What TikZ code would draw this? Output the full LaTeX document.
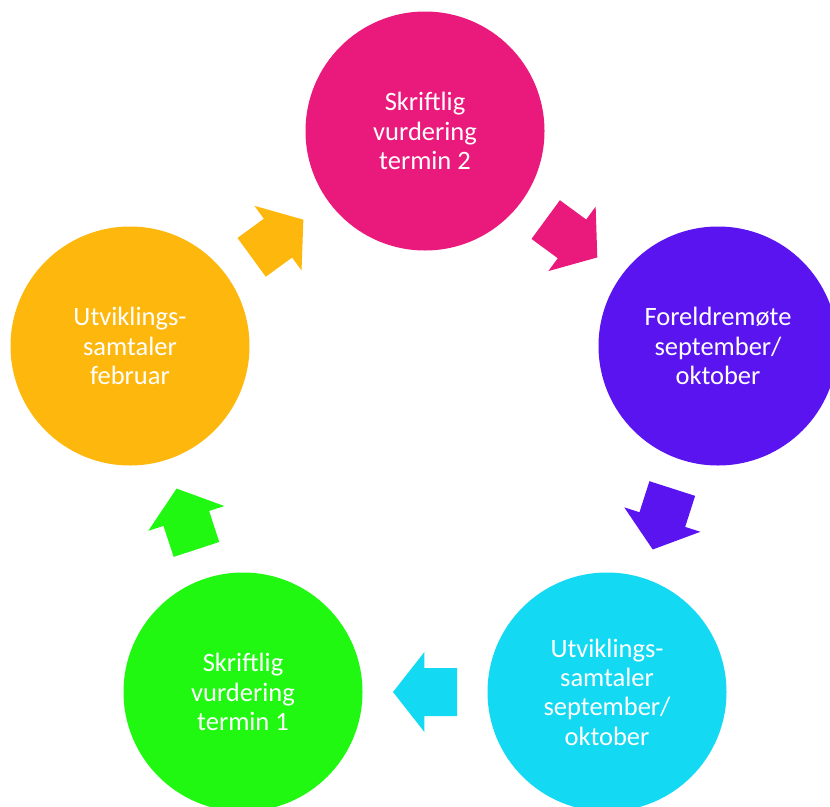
\documentclass[tikz,border=0pt]{standalone}
\usepackage{fontspec}
\setmainfont{Carlito}
\usetikzlibrary{positioning,calc}
\definecolor{rosa}{HTML}{E91A7B}
\definecolor{lilla}{HTML}{5A14F0}
\definecolor{turkis}{HTML}{14D9F2}
\definecolor{limegronn}{HTML}{20F812}
\definecolor{oransje}{HTML}{FDB70D}

\begin{document}
\begin{tikzpicture}[
    x=1pt, y=-1pt,
    every node/.style={font=\fontsize{26.5}{29.3}\selectfont},
    fase/.style={circle, minimum size=239pt, inner sep=0pt, align=center, text=white},
    pics/pil/.style={code={\fill[#1] (-32,-24) -- (0.6,-24) -- (0.6,-40) -- (32,0) -- (0.6,40) -- (0.6,24) -- (-32,24) -- cycle;}}
]
    \useasboundingbox (0,0) rectangle (830,806);

    % Sirkler
    \node[fase, fill=rosa] (topp) at (425, 131) {Skriftlig\\vurdering\\termin 2};
    \node[fase, fill=lilla] (hoyre) at (718, 346) {Foreldremøte\\september/\\oktober};
    \node[fase, fill=turkis] (nedhoyre) at (607, 692) {Utviklings-\\samtaler\\september/\\oktober};
    \node[fase, fill=limegronn] (nedvenstre) at (243, 692) {Skriftlig\\vurdering\\termin 1};
    \node[fase, fill=oransje] (venstre) at (130, 346) {Utviklings-\\samtaler\\februar};

    % Piler mellom sirklene
    \path let \p1=($(hoyre)-(topp)$), \n1={atan2(\y1,\x1)} in
        ($(topp)!0.5!(hoyre)$) pic[rotate=\n1] {pil=rosa};
    \path let \p1=($(nedhoyre)-(hoyre)$), \n1={atan2(\y1,\x1)} in
        ($(hoyre)!0.5!(nedhoyre)$) pic[rotate=\n1] {pil=lilla};
    \path let \p1=($(nedvenstre)-(nedhoyre)$), \n1={atan2(\y1,\x1)} in
        ($(nedhoyre)!0.5!(nedvenstre)$) pic[rotate=\n1] {pil=turkis};
    \path let \p1=($(venstre)-(nedvenstre)$), \n1={atan2(\y1,\x1)} in
        ($(nedvenstre)!0.5!(venstre)$) pic[rotate=\n1] {pil=limegronn};
    \path let \p1=($(topp)-(venstre)$), \n1={atan2(\y1,\x1)} in
        ($(venstre)!0.5!(topp)$) pic[rotate=\n1] {pil=oransje};

\end{tikzpicture}
\end{document}
